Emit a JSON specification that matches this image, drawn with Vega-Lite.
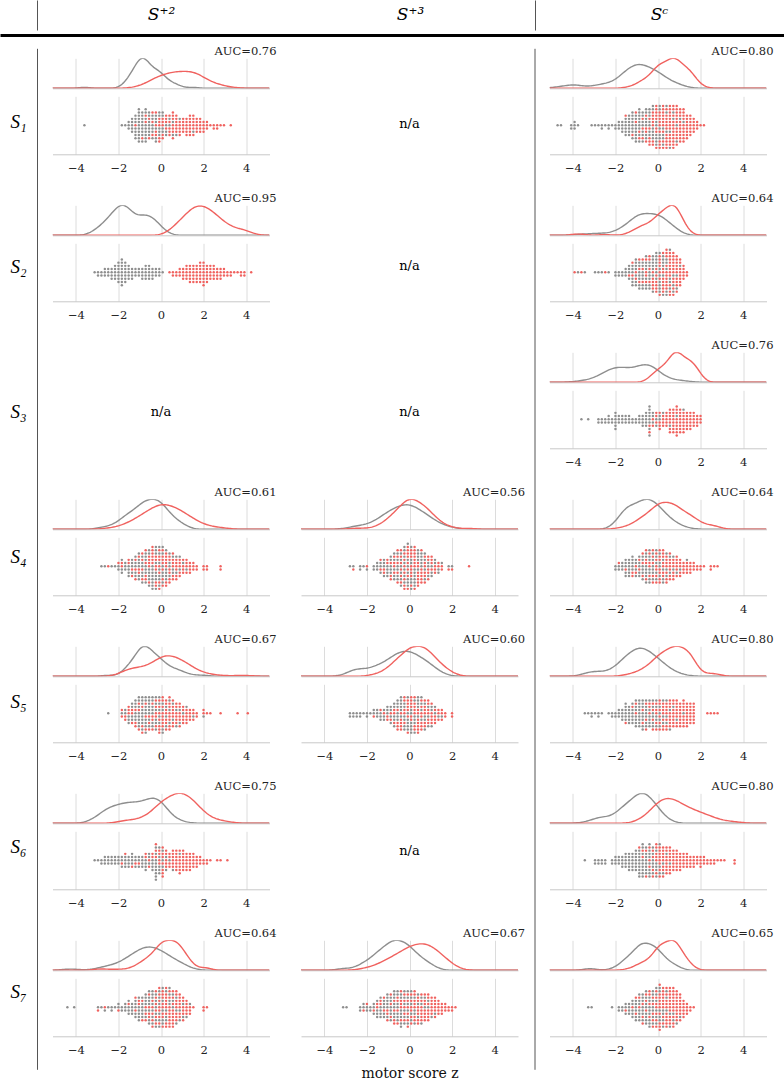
{
"$schema":"https://vega.github.io/schema/vega-lite/v6.json",
"padding":0,
"background":"white",
"config":{
 "view":{"stroke":null},
 "font":"DejaVu Serif",
 "axis":{"grid":true,"gridColor":"#dcdcdc","domainColor":"#c8c8c8","ticks":false,"tickSize":0,"labelFont":"DejaVu Serif","labelFontSize":11.5,"labelColor":"#222","labelPadding":8,"tickCount":5},
 "title":{"anchor":"end","frame":"group","font":"DejaVu Serif","fontSize":11.5,"fontWeight":"normal","color":"#222","offset":1,"baseline":"alphabetic","dx":7},
 "range":{"category":["#8e8e8e","#f0625f"]},
 "line":{"strokeWidth":1.4},
 "circle":{"size":6,"opacity":1}
},
"datasets":{
 "rows":[{"r":"S₁"},{"r":"S₂"},{"r":"S₃"},{"r":"S₄"},{"r":"S₅"},{"r":"S₆"},{"r":"S₇"}],
 "cols":[{"k":"S⁺²"},{"k":"S⁺³"},{"k":"Sᶜ"}],
 "na":[{"t":"n/a"}],
 "pts":[
  {"c":"11","g":"a","x":[-3.6,-1.8,-1.7,-1.5,-1.5,-1.5,-1.4,-1.4,-1.4,-1.4,-1.4,-1.2,-1.2,-1.2,-1.2,-1.2,-1.2,-1.2,-1,-1,-1,-1,-1,-1,-1,-1,-1,-1,-1,-0.9,-0.9,-0.9,-0.9,-0.9,-0.9,-0.9,-0.9,-0.9,-0.7,-0.7,-0.7,-0.7,-0.7,-0.7,-0.7,-0.7,-0.7,-0.6,-0.6,-0.6,-0.6,-0.6,-0.6,-0.6,-0.4,-0.4,-0.4,-0.4,-0.4,-0.4,-0.2,-0.2,-0.2,-0.2,-0.2,-0.2,-0.1,-0.1,-0.1,-0.1,-0.1,0.1,0.1,0.1,0.1,0.2,0.2,0.2,0.4,0.4,0.6,0.6,0.7,0.9,1.5]},
  {"c":"11","g":"b","x":[-1.2,-0.9,-0.7,-0.7,-0.6,-0.6,-0.4,-0.4,-0.4,-0.2,-0.2,-0.2,-0.2,-0.1,-0.1,-0.1,-0.1,-0.1,0.1,0.1,0.1,0.1,0.1,0.2,0.2,0.2,0.2,0.4,0.4,0.4,0.4,0.4,0.6,0.6,0.6,0.6,0.6,0.6,0.6,0.7,0.7,0.7,0.7,0.7,0.7,0.9,0.9,0.9,0.9,0.9,1,1,1,1,1,1.2,1.2,1.2,1.2,1.2,1.2,1.4,1.4,1.4,1.4,1.4,1.4,1.4,1.5,1.5,1.5,1.5,1.5,1.5,1.7,1.7,1.7,1.7,1.7,1.8,1.8,1.8,1.8,1.8,2,2,2,2,2.2,2.2,2.2,2.3,2.5,2.5,2.6,2.6,2.8,3,3.3]},
  {"c":"13","g":"a","x":[-4.7,-4.6,-4.1,-4.1,-3.9,-3.9,-3.9,-3.8,-3.1,-3,-2.8,-2.6,-2.6,-2.5,-2.3,-2.3,-2.2,-2,-2,-1.8,-1.8,-1.8,-1.7,-1.7,-1.7,-1.7,-1.5,-1.5,-1.5,-1.5,-1.5,-1.5,-1.4,-1.4,-1.4,-1.4,-1.4,-1.4,-1.4,-1.2,-1.2,-1.2,-1.2,-1.2,-1.2,-1.2,-1.2,-1,-1,-1,-1,-1,-1,-1,-1,-0.9,-0.9,-0.9,-0.9,-0.9,-0.9,-0.9,-0.9,-0.9,-0.7,-0.7,-0.7,-0.7,-0.7,-0.7,-0.7,-0.6,-0.6,-0.6,-0.6,-0.6,-0.6,-0.6,-0.4,-0.4,-0.4,-0.4,-0.4,-0.4,-0.4,-0.2,-0.2,-0.2,-0.2,-0.2,-0.2,-0.1,-0.1,-0.1,-0.1,-0.1,-0.1,0.1,0.1,0.1,0.1,0.1,0.2,0.2,0.2,0.2,0.4,0.4,0.4,0.6,0.6,0.7,0.7,0.9,0.9,1,1.2]},
  {"c":"13","g":"b","x":[-1.5,-1.2,-1,-1,-0.9,-0.9,-0.7,-0.7,-0.7,-0.6,-0.6,-0.6,-0.6,-0.4,-0.4,-0.4,-0.4,-0.4,-0.2,-0.2,-0.2,-0.2,-0.2,-0.2,-0.2,-0.1,-0.1,-0.1,-0.1,-0.1,-0.1,-0.1,-0.1,0.1,0.1,0.1,0.1,0.1,0.1,0.1,0.1,0.1,0.2,0.2,0.2,0.2,0.2,0.2,0.2,0.2,0.2,0.2,0.4,0.4,0.4,0.4,0.4,0.4,0.4,0.4,0.4,0.4,0.4,0.6,0.6,0.6,0.6,0.6,0.6,0.6,0.6,0.6,0.6,0.6,0.6,0.7,0.7,0.7,0.7,0.7,0.7,0.7,0.7,0.7,0.7,0.7,0.7,0.9,0.9,0.9,0.9,0.9,0.9,0.9,0.9,0.9,0.9,0.9,1,1,1,1,1,1,1,1,1,1,1.2,1.2,1.2,1.2,1.2,1.2,1.2,1.2,1.2,1.2,1.4,1.4,1.4,1.4,1.4,1.4,1.4,1.4,1.5,1.5,1.5,1.5,1.5,1.5,1.5,1.7,1.7,1.7,1.7,1.7,1.8,1.8,1.8,2,2.2]},
  {"c":"21","g":"a","x":[-3.1,-3,-3,-2.8,-2.8,-2.6,-2.6,-2.6,-2.5,-2.5,-2.5,-2.3,-2.3,-2.3,-2.3,-2.2,-2.2,-2.2,-2.2,-2.2,-2,-2,-2,-2,-2,-2,-2,-1.8,-1.8,-1.8,-1.8,-1.8,-1.8,-1.8,-1.8,-1.8,-1.7,-1.7,-1.7,-1.7,-1.7,-1.7,-1.7,-1.5,-1.5,-1.5,-1.5,-1.5,-1.4,-1.4,-1.4,-1.4,-1.2,-1.2,-1.2,-1,-1,-1,-0.9,-0.9,-0.9,-0.9,-0.7,-0.7,-0.7,-0.7,-0.7,-0.6,-0.6,-0.6,-0.6,-0.6,-0.4,-0.4,-0.4,-0.4,-0.2,-0.2,-0.2,-0.1,-0.1,-0.1,0.1]},
  {"c":"21","g":"b","x":[0.4,0.6,0.6,0.7,0.7,0.9,0.9,0.9,1,1,1,1,1.2,1.2,1.2,1.2,1.2,1.4,1.4,1.4,1.4,1.4,1.4,1.5,1.5,1.5,1.5,1.5,1.5,1.7,1.7,1.7,1.7,1.7,1.7,1.8,1.8,1.8,1.8,1.8,1.8,1.8,2,2,2,2,2,2,2,2,2.2,2.2,2.2,2.2,2.2,2.2,2.3,2.3,2.3,2.3,2.3,2.5,2.5,2.5,2.5,2.5,2.6,2.6,2.6,2.6,2.8,2.8,2.8,2.8,3,3,3,3.1,3.1,3.3,3.3,3.4,3.6,3.8,3.8,3.9,3.9,4.2]},
  {"c":"23","g":"a","x":[-3.8,-3.4,-3,-2.8,-2.6,-2.3,-2,-2,-1.8,-1.8,-1.7,-1.7,-1.5,-1.5,-1.5,-1.4,-1.4,-1.4,-1.4,-1.2,-1.2,-1.2,-1.2,-1.2,-1.2,-1,-1,-1,-1,-1,-1,-1,-0.9,-0.9,-0.9,-0.9,-0.9,-0.9,-0.9,-0.7,-0.7,-0.7,-0.7,-0.7,-0.7,-0.7,-0.6,-0.6,-0.6,-0.6,-0.6,-0.6,-0.6,-0.4,-0.4,-0.4,-0.4,-0.4,-0.4,-0.4,-0.2,-0.2,-0.2,-0.2,-0.2,-0.2,-0.2,-0.1,-0.1,-0.1,-0.1,-0.1,-0.1,-0.1,0.1,0.1,0.1,0.1,0.1,0.1,0.1,0.2,0.2,0.2,0.2,0.2,0.2,0.4,0.4,0.4,0.4,0.4,0.6,0.6,0.6,0.6,0.7,0.7,0.7,0.9,0.9,1]},
  {"c":"23","g":"b","x":[-3.9,-3.6,-2.5,-1.4,-1.2,-1.2,-1,-1,-0.9,-0.9,-0.9,-0.7,-0.7,-0.7,-0.6,-0.6,-0.6,-0.6,-0.4,-0.4,-0.4,-0.4,-0.2,-0.2,-0.2,-0.2,-0.2,-0.1,-0.1,-0.1,-0.1,-0.1,-0.1,0.1,0.1,0.1,0.1,0.1,0.1,0.1,0.2,0.2,0.2,0.2,0.2,0.2,0.2,0.2,0.4,0.4,0.4,0.4,0.4,0.4,0.4,0.4,0.4,0.4,0.6,0.6,0.6,0.6,0.6,0.6,0.6,0.6,0.6,0.6,0.6,0.7,0.7,0.7,0.7,0.7,0.7,0.7,0.7,0.7,0.7,0.7,0.9,0.9,0.9,0.9,0.9,0.9,0.9,0.9,0.9,0.9,1,1,1,1,1,1,1,1,1.2,1.2,1.2,1.2,1.2,1.4,1.4]},
  {"c":"33","g":"a","x":[-3.6,-3.3,-2.8,-2.8,-2.6,-2.6,-2.5,-2.5,-2.3,-2.3,-2.3,-2.2,-2.2,-2,-2,-2,-2,-2,-2,-1.8,-1.8,-1.8,-1.7,-1.7,-1.7,-1.5,-1.5,-1.5,-1.4,-1.4,-1.4,-1.2,-1.2,-1,-1,-0.9,-0.9,-0.9,-0.7,-0.7,-0.7,-0.7,-0.6,-0.6,-0.6,-0.6,-0.6,-0.4,-0.4,-0.4,-0.4,-0.4,-0.4,-0.4,-0.4,-0.2,-0.2,-0.2,-0.1,-0.1,0.1,0.1,0.2,0.6,0.9,1.2]},
  {"c":"33","g":"b","x":[-0.4,-0.4,-0.2,-0.2,-0.1,-0.1,-0.1,0.1,0.1,0.1,0.1,0.2,0.2,0.2,0.2,0.4,0.4,0.4,0.4,0.4,0.6,0.6,0.6,0.6,0.6,0.6,0.6,0.7,0.7,0.7,0.7,0.7,0.7,0.7,0.7,0.9,0.9,0.9,0.9,0.9,0.9,0.9,0.9,0.9,1,1,1,1,1,1,1,1,1.2,1.2,1.2,1.2,1.2,1.2,1.2,1.4,1.4,1.4,1.4,1.4,1.4,1.5,1.5,1.5,1.5,1.5,1.5,1.7,1.7,1.7,1.7,1.7,1.8,1.8,1.8,1.8,2,2,2]},
  {"c":"41","g":"a","x":[-2.8,-2.6,-2.3,-2.2,-2,-2,-1.8,-1.8,-1.8,-1.7,-1.7,-1.7,-1.5,-1.5,-1.5,-1.5,-1.4,-1.4,-1.4,-1.4,-1.2,-1.2,-1.2,-1.2,-1.2,-1,-1,-1,-1,-1,-1,-0.9,-0.9,-0.9,-0.9,-0.9,-0.9,-0.7,-0.7,-0.7,-0.7,-0.7,-0.7,-0.7,-0.6,-0.6,-0.6,-0.6,-0.6,-0.6,-0.6,-0.4,-0.4,-0.4,-0.4,-0.4,-0.4,-0.4,-0.4,-0.2,-0.2,-0.2,-0.2,-0.2,-0.2,-0.2,-0.2,-0.1,-0.1,-0.1,-0.1,-0.1,-0.1,-0.1,0.1,0.1,0.1,0.1,0.1,0.1,0.2,0.2,0.2,0.2,0.2,0.4,0.4,0.4,0.4,0.6,0.6,0.6,0.7,0.7,0.9,0.9,1,1.2]},
  {"c":"41","g":"b","x":[-2.5,-2,-1.8,-1.8,-1.5,-1.5,-1.4,-1.4,-1.2,-1.2,-1.2,-1,-1,-1,-0.9,-0.9,-0.9,-0.9,-0.7,-0.7,-0.7,-0.7,-0.6,-0.6,-0.6,-0.6,-0.6,-0.4,-0.4,-0.4,-0.4,-0.4,-0.4,-0.2,-0.2,-0.2,-0.2,-0.2,-0.2,-0.1,-0.1,-0.1,-0.1,-0.1,-0.1,-0.1,0.1,0.1,0.1,0.1,0.1,0.1,0.1,0.2,0.2,0.2,0.2,0.2,0.2,0.2,0.4,0.4,0.4,0.4,0.4,0.4,0.6,0.6,0.6,0.6,0.6,0.6,0.7,0.7,0.7,0.7,0.7,0.7,0.9,0.9,0.9,0.9,0.9,1,1,1,1,1.2,1.2,1.2,1.2,1.4,1.4,1.4,1.4,1.5,1.5,1.5,1.7,1.7,2,2,2.2,2.2,2.8,2.8]},
  {"c":"42","g":"a","x":[-2.8,-2.6,-2.3,-2.3,-2.2,-2,-1.7,-1.7,-1.5,-1.5,-1.5,-1.4,-1.4,-1.4,-1.2,-1.2,-1.2,-1.2,-1,-1,-1,-1,-0.9,-0.9,-0.9,-0.9,-0.9,-0.7,-0.7,-0.7,-0.7,-0.7,-0.6,-0.6,-0.6,-0.6,-0.6,-0.6,-0.4,-0.4,-0.4,-0.4,-0.4,-0.4,-0.2,-0.2,-0.2,-0.2,-0.2,-0.2,-0.2,-0.1,-0.1,-0.1,-0.1,-0.1,-0.1,-0.1,0.1,0.1,0.1,0.1,0.1,0.1,0.2,0.2,0.2,0.2,0.2,0.2,0.4,0.4,0.4,0.4,0.4,0.6,0.6,0.6,0.6,0.6,0.7,0.7,0.7,0.7,0.9,0.9,0.9,1,1,1,1.2,1.2,1.4,1.4,1.5,1.8,2]},
  {"c":"42","g":"b","x":[-2.6,-2,-1.4,-1.4,-1.2,-1.2,-1,-1,-0.9,-0.9,-0.9,-0.7,-0.7,-0.7,-0.7,-0.6,-0.6,-0.6,-0.6,-0.6,-0.4,-0.4,-0.4,-0.4,-0.4,-0.4,-0.2,-0.2,-0.2,-0.2,-0.2,-0.2,-0.2,-0.1,-0.1,-0.1,-0.1,-0.1,-0.1,-0.1,-0.1,0.1,0.1,0.1,0.1,0.1,0.1,0.1,0.1,0.2,0.2,0.2,0.2,0.2,0.2,0.2,0.2,0.4,0.4,0.4,0.4,0.4,0.4,0.4,0.6,0.6,0.6,0.6,0.6,0.6,0.7,0.7,0.7,0.7,0.7,0.7,0.9,0.9,0.9,0.9,0.9,1,1,1,1,1.2,1.2,1.2,1.4,1.4,1.5,1.5,1.8,2,2.8]},
  {"c":"43","g":"a","x":[-2,-2,-1.8,-1.8,-1.7,-1.7,-1.7,-1.5,-1.5,-1.5,-1.5,-1.5,-1.4,-1.4,-1.4,-1.4,-1.4,-1.4,-1.2,-1.2,-1.2,-1.2,-1.2,-1,-1,-1,-1,-0.9,-0.9,-0.9,-0.9,-0.9,-0.7,-0.7,-0.7,-0.7,-0.7,-0.7,-0.6,-0.6,-0.6,-0.6,-0.6,-0.6,-0.6,-0.4,-0.4,-0.4,-0.4,-0.4,-0.4,-0.4,-0.2,-0.2,-0.2,-0.2,-0.2,-0.2,-0.1,-0.1,-0.1,-0.1,-0.1,0.1,0.1,0.1,0.1,0.2,0.2,0.2,0.2,0.4,0.4,0.4,0.6,0.6,0.7,0.7,0.9,1,1.4]},
  {"c":"43","g":"b","x":[-1.8,-1.5,-1.2,-1.2,-1,-1,-0.9,-0.9,-0.7,-0.7,-0.7,-0.6,-0.6,-0.6,-0.6,-0.4,-0.4,-0.4,-0.4,-0.2,-0.2,-0.2,-0.2,-0.2,-0.1,-0.1,-0.1,-0.1,-0.1,-0.1,0.1,0.1,0.1,0.1,0.1,0.1,0.1,0.2,0.2,0.2,0.2,0.2,0.2,0.2,0.4,0.4,0.4,0.4,0.4,0.4,0.4,0.6,0.6,0.6,0.6,0.6,0.6,0.6,0.7,0.7,0.7,0.7,0.7,0.7,0.9,0.9,0.9,0.9,0.9,0.9,1,1,1,1,1,1.2,1.2,1.2,1.2,1.4,1.4,1.4,1.4,1.5,1.5,1.5,1.5,1.7,1.7,1.7,1.8,1.8,2,2,2.2,2.5,2.5,2.6,2.8]},
  {"c":"51","g":"a","x":[-2.5,-1.8,-1.7,-1.7,-1.5,-1.5,-1.5,-1.4,-1.4,-1.4,-1.4,-1.2,-1.2,-1.2,-1.2,-1.2,-1.2,-1,-1,-1,-1,-1,-1,-1,-1,-0.9,-0.9,-0.9,-0.9,-0.9,-0.9,-0.9,-0.9,-0.9,-0.7,-0.7,-0.7,-0.7,-0.7,-0.7,-0.7,-0.7,-0.7,-0.6,-0.6,-0.6,-0.6,-0.6,-0.6,-0.6,-0.6,-0.4,-0.4,-0.4,-0.4,-0.4,-0.4,-0.4,-0.2,-0.2,-0.2,-0.2,-0.2,-0.2,-0.1,-0.1,-0.1,-0.1,-0.1,0.1,0.1,0.1,0.1,0.2,0.2,0.2,0.4,0.4,0.4,0.6,0.6,0.7,0.7,0.9,0.9,1,1.2,1.5,2]},
  {"c":"51","g":"b","x":[-1.8,-1.8,-1.7,-1.7,-1.5,-1.5,-1.5,-1.4,-1.4,-1.4,-1.2,-1.2,-1.2,-1,-1,-1,-0.9,-0.9,-0.9,-0.7,-0.7,-0.7,-0.6,-0.6,-0.6,-0.4,-0.4,-0.4,-0.4,-0.2,-0.2,-0.2,-0.2,-0.2,-0.1,-0.1,-0.1,-0.1,-0.1,-0.1,-0.1,0.1,0.1,0.1,0.1,0.1,0.1,0.1,0.1,0.2,0.2,0.2,0.2,0.2,0.2,0.2,0.4,0.4,0.4,0.4,0.4,0.4,0.4,0.4,0.6,0.6,0.6,0.6,0.6,0.6,0.6,0.7,0.7,0.7,0.7,0.7,0.7,0.9,0.9,0.9,0.9,0.9,0.9,1,1,1,1,1,1.2,1.2,1.2,1.2,1.2,1.4,1.4,1.4,1.4,1.5,1.5,1.5,1.7,1.7,2,2,2.2,2.3,2.8,3.6,4.1]},
  {"c":"52","g":"a","x":[-2.8,-2.8,-2.6,-2.6,-2.5,-2.5,-2.3,-2.3,-2.2,-2,-2,-1.8,-1.7,-1.7,-1.5,-1.5,-1.5,-1.4,-1.4,-1.4,-1.2,-1.2,-1.2,-1,-1,-1,-0.9,-0.9,-0.9,-0.9,-0.7,-0.7,-0.7,-0.7,-0.7,-0.6,-0.6,-0.6,-0.6,-0.6,-0.6,-0.4,-0.4,-0.4,-0.4,-0.4,-0.4,-0.2,-0.2,-0.2,-0.2,-0.2,-0.2,-0.1,-0.1,-0.1,-0.1,-0.1,-0.1,0.1,0.1,0.1,0.1,0.1,0.1,0.2,0.2,0.2,0.2,0.2,0.4,0.4,0.4,0.4,0.4,0.6,0.6,0.6,0.6,0.7,0.7,0.7,0.7,0.9,0.9,0.9,1,1,1,1.2,1.2,1.4,1.5]},
  {"c":"52","g":"b","x":[-1.7,-1.4,-1.2,-1,-1,-0.9,-0.9,-0.7,-0.7,-0.7,-0.6,-0.6,-0.6,-0.6,-0.4,-0.4,-0.4,-0.4,-0.4,-0.2,-0.2,-0.2,-0.2,-0.2,-0.1,-0.1,-0.1,-0.1,-0.1,-0.1,0.1,0.1,0.1,0.1,0.1,0.1,0.2,0.2,0.2,0.2,0.2,0.2,0.2,0.4,0.4,0.4,0.4,0.4,0.4,0.4,0.6,0.6,0.6,0.6,0.6,0.6,0.6,0.7,0.7,0.7,0.7,0.7,0.7,0.9,0.9,0.9,0.9,0.9,0.9,1,1,1,1,1,1.2,1.2,1.2,1.2,1.4,1.4,1.4,1.5,1.5,1.5,1.7,1.7,2,2]},
  {"c":"53","g":"a","x":[-3.4,-3.3,-3.1,-3.1,-3,-2.8,-2.8,-2.6,-2.3,-2.2,-2.2,-2,-2,-1.8,-1.8,-1.8,-1.7,-1.7,-1.7,-1.7,-1.5,-1.5,-1.5,-1.5,-1.5,-1.5,-1.4,-1.4,-1.4,-1.4,-1.4,-1.4,-1.2,-1.2,-1.2,-1.2,-1.2,-1.2,-1,-1,-1,-1,-1,-1,-1,-0.9,-0.9,-0.9,-0.9,-0.9,-0.9,-0.9,-0.9,-0.9,-0.7,-0.7,-0.7,-0.7,-0.7,-0.7,-0.7,-0.7,-0.6,-0.6,-0.6,-0.6,-0.6,-0.6,-0.6,-0.4,-0.4,-0.4,-0.4,-0.4,-0.4,-0.2,-0.2,-0.2,-0.2,-0.2,-0.2,-0.1,-0.1,-0.1,-0.1,-0.1,0.1,0.1,0.1,0.1,0.2,0.2,0.2,0.4,0.4,0.4,0.6,0.6,0.7,0.9,1.2]},
  {"c":"53","g":"b","x":[-1.5,-1.2,-1,-1,-0.7,-0.7,-0.6,-0.6,-0.6,-0.4,-0.4,-0.4,-0.2,-0.2,-0.2,-0.2,-0.1,-0.1,-0.1,-0.1,-0.1,0.1,0.1,0.1,0.1,0.1,0.1,0.2,0.2,0.2,0.2,0.2,0.2,0.2,0.4,0.4,0.4,0.4,0.4,0.4,0.4,0.6,0.6,0.6,0.6,0.6,0.6,0.6,0.6,0.7,0.7,0.7,0.7,0.7,0.7,0.7,0.7,0.9,0.9,0.9,0.9,0.9,0.9,0.9,0.9,1,1,1,1,1,1,1,1,1.2,1.2,1.2,1.2,1.2,1.2,1.2,1.2,1.4,1.4,1.4,1.4,1.4,1.4,1.4,1.4,1.5,1.5,1.5,1.5,1.5,1.5,1.5,1.7,1.7,1.7,1.7,1.7,1.7,1.7,2.3,2.5,2.6,2.8]},
  {"c":"61","g":"a","x":[-3.1,-3,-2.8,-2.8,-2.6,-2.6,-2.6,-2.5,-2.5,-2.5,-2.3,-2.3,-2.3,-2.2,-2.2,-2.2,-2,-2,-2,-1.8,-1.8,-1.8,-1.7,-1.7,-1.7,-1.7,-1.5,-1.5,-1.5,-1.5,-1.4,-1.4,-1.4,-1.4,-1.2,-1.2,-1.2,-1,-1,-1,-0.9,-0.9,-0.9,-0.9,-0.7,-0.7,-0.7,-0.7,-0.6,-0.6,-0.6,-0.4,-0.4,-0.4,-0.4,-0.2,-0.2,-0.2,-0.2,-0.2,-0.2,-0.2,-0.2,-0.2,-0.1,-0.1,-0.1,-0.1,-0.1,0.1,0.1,0.1,0.2,0.2,0.4,0.6,0.9]},
  {"c":"61","g":"b","x":[-1.8,-1.7,-1.4,-1.2,-1,-0.7,-0.7,-0.6,-0.6,-0.4,-0.4,-0.2,-0.2,-0.2,-0.1,-0.1,-0.1,-0.1,0.1,0.1,0.1,0.1,0.1,0.1,0.1,0.2,0.2,0.2,0.2,0.2,0.4,0.4,0.4,0.4,0.6,0.6,0.6,0.6,0.6,0.6,0.7,0.7,0.7,0.7,0.7,0.7,0.7,0.9,0.9,0.9,0.9,0.9,0.9,0.9,1,1,1,1,1,1,1,1.2,1.2,1.2,1.2,1.2,1.2,1.4,1.4,1.4,1.4,1.4,1.4,1.5,1.5,1.5,1.5,1.5,1.7,1.7,1.7,1.7,1.8,1.8,1.8,2,2,2.2,2.2,2.3,2.6,2.8,3.1]},
  {"c":"63","g":"a","x":[-3.4,-3,-3,-2.8,-2.8,-2.6,-2.6,-2.5,-2.5,-2.2,-2.2,-2,-2,-2,-1.8,-1.8,-1.8,-1.7,-1.7,-1.7,-1.7,-1.5,-1.5,-1.5,-1.5,-1.5,-1.4,-1.4,-1.4,-1.4,-1.4,-1.4,-1.2,-1.2,-1.2,-1.2,-1.2,-1.2,-1,-1,-1,-1,-1,-1,-1,-0.9,-0.9,-0.9,-0.9,-0.9,-0.9,-0.9,-0.9,-0.9,-0.7,-0.7,-0.7,-0.7,-0.7,-0.7,-0.7,-0.7,-0.7,-0.6,-0.6,-0.6,-0.6,-0.6,-0.6,-0.6,-0.6,-0.4,-0.4,-0.4,-0.4,-0.4,-0.4,-0.4,-0.4,-0.2,-0.2,-0.2,-0.2,-0.2,-0.2,-0.1,-0.1,-0.1,-0.1,-0.1,0.1,0.1,0.1,0.2,0.2,0.4,0.6]},
  {"c":"63","g":"b","x":[-0.9,-0.7,-0.7,-0.6,-0.6,-0.4,-0.4,-0.4,-0.2,-0.2,-0.2,-0.2,-0.1,-0.1,-0.1,-0.1,-0.1,-0.1,0.1,0.1,0.1,0.1,0.1,0.1,0.1,0.1,0.2,0.2,0.2,0.2,0.2,0.2,0.2,0.2,0.4,0.4,0.4,0.4,0.4,0.4,0.4,0.4,0.6,0.6,0.6,0.6,0.6,0.6,0.6,0.6,0.7,0.7,0.7,0.7,0.7,0.7,0.7,0.9,0.9,0.9,0.9,0.9,0.9,0.9,1,1,1,1,1,1,1.2,1.2,1.2,1.2,1.2,1.4,1.4,1.4,1.4,1.4,1.5,1.5,1.5,1.5,1.7,1.7,1.7,1.7,1.8,1.8,1.8,2,2,2,2,2.2,2.2,2.2,2.3,2.3,2.5,2.5,2.6,2.6,2.8,3,3.1,3.6,3.6]},
  {"c":"71","g":"a","x":[-4.4,-4.1,-3,-2.8,-2.6,-2.5,-2.3,-2.3,-2.2,-2,-2,-1.8,-1.8,-1.7,-1.7,-1.7,-1.5,-1.5,-1.5,-1.5,-1.4,-1.4,-1.4,-1.4,-1.2,-1.2,-1.2,-1.2,-1.2,-1,-1,-1,-1,-1,-1,-0.9,-0.9,-0.9,-0.9,-0.9,-0.9,-0.7,-0.7,-0.7,-0.7,-0.7,-0.7,-0.6,-0.6,-0.6,-0.6,-0.6,-0.6,-0.6,-0.4,-0.4,-0.4,-0.4,-0.4,-0.4,-0.4,-0.2,-0.2,-0.2,-0.2,-0.2,-0.2,-0.1,-0.1,-0.1,-0.1,-0.1,-0.1,0.1,0.1,0.1,0.1,0.1,0.2,0.2,0.2,0.2,0.4,0.4,0.4,0.4,0.6,0.6,0.6,0.7,0.7,0.7,0.9,0.9,1,1,1.2,1.4]},
  {"c":"71","g":"b","x":[-3,-2.6,-2,-1.5,-1.2,-1.2,-1,-1,-0.9,-0.9,-0.7,-0.7,-0.7,-0.6,-0.6,-0.6,-0.6,-0.4,-0.4,-0.4,-0.4,-0.4,-0.2,-0.2,-0.2,-0.2,-0.2,-0.2,-0.1,-0.1,-0.1,-0.1,-0.1,-0.1,-0.1,0.1,0.1,0.1,0.1,0.1,0.1,0.1,0.1,0.2,0.2,0.2,0.2,0.2,0.2,0.2,0.2,0.2,0.4,0.4,0.4,0.4,0.4,0.4,0.4,0.4,0.4,0.6,0.6,0.6,0.6,0.6,0.6,0.6,0.6,0.6,0.7,0.7,0.7,0.7,0.7,0.7,0.7,0.7,0.9,0.9,0.9,0.9,0.9,0.9,0.9,1,1,1,1,1,1,1.2,1.2,1.2,1.2,1.2,1.4,1.4,1.4,1.5,2,2,2.2]},
  {"c":"72","g":"a","x":[-3.1,-3,-2.3,-2.3,-2.2,-2.2,-2,-2,-1.8,-1.8,-1.7,-1.7,-1.7,-1.5,-1.5,-1.5,-1.5,-1.4,-1.4,-1.4,-1.4,-1.4,-1.2,-1.2,-1.2,-1.2,-1.2,-1,-1,-1,-1,-1,-1,-0.9,-0.9,-0.9,-0.9,-0.9,-0.9,-0.7,-0.7,-0.7,-0.7,-0.7,-0.7,-0.7,-0.6,-0.6,-0.6,-0.6,-0.6,-0.6,-0.6,-0.4,-0.4,-0.4,-0.4,-0.4,-0.4,-0.4,-0.2,-0.2,-0.2,-0.2,-0.2,-0.2,-0.1,-0.1,-0.1,-0.1,-0.1,-0.1,0.1,0.1,0.1,0.1,0.1,0.2,0.2,0.2,0.2,0.4,0.4,0.4,0.6,0.6,0.6,0.7,0.7,0.9,0.9,1,1.2]},
  {"c":"72","g":"b","x":[-2.2,-2,-1.7,-1.5,-1.5,-1.4,-1.4,-1.2,-1.2,-1,-1,-1,-0.9,-0.9,-0.9,-0.7,-0.7,-0.7,-0.7,-0.6,-0.6,-0.6,-0.6,-0.4,-0.4,-0.4,-0.4,-0.4,-0.2,-0.2,-0.2,-0.2,-0.2,-0.1,-0.1,-0.1,-0.1,-0.1,-0.1,0.1,0.1,0.1,0.1,0.1,0.1,0.2,0.2,0.2,0.2,0.2,0.2,0.2,0.4,0.4,0.4,0.4,0.4,0.4,0.4,0.6,0.6,0.6,0.6,0.6,0.6,0.6,0.7,0.7,0.7,0.7,0.7,0.7,0.7,0.9,0.9,0.9,0.9,0.9,0.9,0.9,1,1,1,1,1,1,1.2,1.2,1.2,1.2,1.2,1.2,1.4,1.4,1.4,1.4,1.4,1.5,1.5,1.5,1.5,1.7,1.7,1.7,1.8,1.8,2,2,2.2]},
  {"c":"73","g":"a","x":[-3.3,-3.1,-2.2,-1.8,-1.8,-1.7,-1.7,-1.5,-1.5,-1.5,-1.4,-1.4,-1.4,-1.4,-1.2,-1.2,-1.2,-1.2,-1.2,-1,-1,-1,-1,-1,-1,-0.9,-0.9,-0.9,-0.9,-0.9,-0.9,-0.9,-0.7,-0.7,-0.7,-0.7,-0.7,-0.7,-0.7,-0.6,-0.6,-0.6,-0.6,-0.6,-0.6,-0.6,-0.6,-0.4,-0.4,-0.4,-0.4,-0.4,-0.4,-0.4,-0.4,-0.2,-0.2,-0.2,-0.2,-0.2,-0.2,-0.2,-0.1,-0.1,-0.1,-0.1,-0.1,-0.1,0.1,0.1,0.1,0.1,0.1,0.2,0.2,0.2,0.2,0.4,0.4,0.4,0.6,0.6,0.7,0.7,0.9,1]},
  {"c":"73","g":"b","x":[-1.5,-1.2,-1,-1,-0.9,-0.9,-0.7,-0.7,-0.7,-0.6,-0.6,-0.6,-0.4,-0.4,-0.4,-0.4,-0.2,-0.2,-0.2,-0.2,-0.2,-0.1,-0.1,-0.1,-0.1,-0.1,-0.1,-0.1,0.1,0.1,0.1,0.1,0.1,0.1,0.1,0.1,0.1,0.1,0.2,0.2,0.2,0.2,0.2,0.2,0.2,0.2,0.2,0.4,0.4,0.4,0.4,0.4,0.4,0.4,0.4,0.4,0.4,0.6,0.6,0.6,0.6,0.6,0.6,0.6,0.6,0.6,0.6,0.6,0.7,0.7,0.7,0.7,0.7,0.7,0.7,0.7,0.7,0.7,0.7,0.9,0.9,0.9,0.9,0.9,0.9,0.9,0.9,0.9,0.9,1,1,1,1,1,1,1,1,1.2,1.2,1.2,1.2,1.2,1.2,1.4,1.4,1.4,1.4,1.5,1.5,1.7]}
 ]
},
"data":{"name":"pts"},
"transform":[
 {"flatten":["x"]},
 {"window":[{"op":"row_number","as":"i"}]},
 {"calculate":"floor(datum.x/0.16)","as":"b"},
 {"calculate":"(datum.i*37)%53","as":"h"},
 {"window":[{"op":"row_number","as":"r"}],"groupby":["c","b"],"sort":[{"field":"h"}]},
 {"calculate":"(datum.b+0.5)*0.16","as":"xb"},
 {"calculate":"(datum.r%2==0?-1:1)*floor(datum.r/2)","as":"o"}
],
"bounds":"full",
"spacing":10.3,
"vconcat":[
 {"data":{"name":"cols"},"width":784,"height":30,
  "mark":{"type":"text","font":"DejaVu Serif","fontStyle":"italic","fontSize":17},
  "encoding":{
   "x":{"field":"k","type":"nominal","sort":null,"scale":{"type":"band","range":[0,784],"paddingInner":0,"paddingOuter":0.0743,"align":1},
        "axis":{"orient":"bottom","offset":5,"labels":false,"title":null,"domainColor":"#000","domainWidth":3,"grid":true,"bandPosition":0,"gridColor":"#555","gridOpacity":{"condition":{"test":"datum.value==='S⁺³'","value":0},"value":1}}},
   "text":{"field":"k"}
  }
 },
 {"bounds":"full","spacing":24,"hconcat":[
  {"bounds":"full","spacing":15.5,"hconcat":[
   {"data":{"name":"rows"},"width":37,"height":976.2,
    "mark":{"type":"text","font":"Liberation Serif","fontStyle":"italic","fontSize":19},
    "encoding":{
     "y":{"field":"r","type":"nominal","sort":null,"scale":{"type":"point","range":[-10,1011],"padding":0.5207,"align":0.49},"axis":{"orient":"right","labels":false,"grid":false,"title":null,"domainColor":"#555"}},
     "text":{"field":"r"}
    }
   },
   {"bounds":"flush","spacing":8,"vconcat":[
    {"width":217,"height":30,"title":"AUC=0.76","transform":[{"filter":"datum.c=='11'"},{"density":"x","groupby":["g"],"extent":[-5.1,5.1],"steps":150}],"mark":{"type":"line","clip":true},"encoding":{"x":{"field":"value","type":"quantitative","scale":{"domain":[-5.1,5.1]},"axis":{"labels":false},"title":null},"y":{"field":"density","type":"quantitative","scale":{"nice":false},"axis":null},"color":{"field":"g","legend":null}}},
    {"width":217,"height":58,"transform":[{"filter":"datum.c=='11'"}],"mark":"circle","encoding":{"x":{"field":"xb","type":"quantitative","scale":{"domain":[-5.1,5.1]},"title":null},"y":{"field":"o","type":"quantitative","scale":{"domain":[-9,9]},"axis":null},"color":{"field":"g","legend":null}}},
    {"data":{"name":"na"},"width":217,"height":34.7,"mark":{"type":"text","text":""},"encoding":{}},
    {"width":217,"height":30,"title":"AUC=0.95","transform":[{"filter":"datum.c=='21'"},{"density":"x","groupby":["g"],"extent":[-5.1,5.1],"steps":150}],"mark":{"type":"line","clip":true},"encoding":{"x":{"field":"value","type":"quantitative","scale":{"domain":[-5.1,5.1]},"axis":{"labels":false},"title":null},"y":{"field":"density","type":"quantitative","scale":{"nice":false},"axis":null},"color":{"field":"g","legend":null}}},
    {"width":217,"height":58,"transform":[{"filter":"datum.c=='21'"}],"mark":"circle","encoding":{"x":{"field":"xb","type":"quantitative","scale":{"domain":[-5.1,5.1]},"title":null},"y":{"field":"o","type":"quantitative","scale":{"domain":[-9,9]},"axis":null},"color":{"field":"g","legend":null}}},
    {"data":{"name":"na"},"width":217,"height":34.7,"mark":{"type":"text","text":""},"encoding":{}},
    {"data":{"name":"na"},"width":217,"height":96,"mark":{"type":"text","fontSize":13,"dy":11.6},"encoding":{"text":{"field":"t"}}},
    {"data":{"name":"na"},"width":217,"height":34.7,"mark":{"type":"text","text":""},"encoding":{}},
    {"width":217,"height":30,"title":"AUC=0.61","transform":[{"filter":"datum.c=='41'"},{"density":"x","groupby":["g"],"extent":[-5.1,5.1],"steps":150}],"mark":{"type":"line","clip":true},"encoding":{"x":{"field":"value","type":"quantitative","scale":{"domain":[-5.1,5.1]},"axis":{"labels":false},"title":null},"y":{"field":"density","type":"quantitative","scale":{"nice":false},"axis":null},"color":{"field":"g","legend":null}}},
    {"width":217,"height":58,"transform":[{"filter":"datum.c=='41'"}],"mark":"circle","encoding":{"x":{"field":"xb","type":"quantitative","scale":{"domain":[-5.1,5.1]},"title":null},"y":{"field":"o","type":"quantitative","scale":{"domain":[-9,9]},"axis":null},"color":{"field":"g","legend":null}}},
    {"data":{"name":"na"},"width":217,"height":34.7,"mark":{"type":"text","text":""},"encoding":{}},
    {"width":217,"height":30,"title":"AUC=0.67","transform":[{"filter":"datum.c=='51'"},{"density":"x","groupby":["g"],"extent":[-5.1,5.1],"steps":150}],"mark":{"type":"line","clip":true},"encoding":{"x":{"field":"value","type":"quantitative","scale":{"domain":[-5.1,5.1]},"axis":{"labels":false},"title":null},"y":{"field":"density","type":"quantitative","scale":{"nice":false},"axis":null},"color":{"field":"g","legend":null}}},
    {"width":217,"height":58,"transform":[{"filter":"datum.c=='51'"}],"mark":"circle","encoding":{"x":{"field":"xb","type":"quantitative","scale":{"domain":[-5.1,5.1]},"title":null},"y":{"field":"o","type":"quantitative","scale":{"domain":[-9,9]},"axis":null},"color":{"field":"g","legend":null}}},
    {"data":{"name":"na"},"width":217,"height":34.7,"mark":{"type":"text","text":""},"encoding":{}},
    {"width":217,"height":30,"title":"AUC=0.75","transform":[{"filter":"datum.c=='61'"},{"density":"x","groupby":["g"],"extent":[-5.1,5.1],"steps":150}],"mark":{"type":"line","clip":true},"encoding":{"x":{"field":"value","type":"quantitative","scale":{"domain":[-5.1,5.1]},"axis":{"labels":false},"title":null},"y":{"field":"density","type":"quantitative","scale":{"nice":false},"axis":null},"color":{"field":"g","legend":null}}},
    {"width":217,"height":58,"transform":[{"filter":"datum.c=='61'"}],"mark":"circle","encoding":{"x":{"field":"xb","type":"quantitative","scale":{"domain":[-5.1,5.1]},"title":null},"y":{"field":"o","type":"quantitative","scale":{"domain":[-9,9]},"axis":null},"color":{"field":"g","legend":null}}},
    {"data":{"name":"na"},"width":217,"height":34.7,"mark":{"type":"text","text":""},"encoding":{}},
    {"width":217,"height":30,"title":"AUC=0.64","transform":[{"filter":"datum.c=='71'"},{"density":"x","groupby":["g"],"extent":[-5.1,5.1],"steps":150}],"mark":{"type":"line","clip":true},"encoding":{"x":{"field":"value","type":"quantitative","scale":{"domain":[-5.1,5.1]},"axis":{"labels":false},"title":null},"y":{"field":"density","type":"quantitative","scale":{"nice":false},"axis":null},"color":{"field":"g","legend":null}}},
    {"width":217,"height":58,"transform":[{"filter":"datum.c=='71'"}],"mark":"circle","encoding":{"x":{"field":"xb","type":"quantitative","scale":{"domain":[-5.1,5.1]},"title":null},"y":{"field":"o","type":"quantitative","scale":{"domain":[-9,9]},"axis":null},"color":{"field":"g","legend":null}}}
   ]}
  ]},
  {"bounds":"full","spacing":9.5,"hconcat":[
   {"bounds":"flush","spacing":8,"vconcat":[
    {"data":{"name":"na"},"width":217,"height":96,"title":" ","mark":{"type":"text","fontSize":13,"dy":18},"encoding":{"text":{"field":"t"}}},
    {"data":{"name":"na"},"width":217,"height":34.7,"mark":{"type":"text","text":""},"encoding":{}},
    {"data":{"name":"na"},"width":217,"height":96,"mark":{"type":"text","fontSize":13,"dy":13},"encoding":{"text":{"field":"t"}}},
    {"data":{"name":"na"},"width":217,"height":34.7,"mark":{"type":"text","text":""},"encoding":{}},
    {"data":{"name":"na"},"width":217,"height":96,"mark":{"type":"text","fontSize":13,"dy":11.6},"encoding":{"text":{"field":"t"}}},
    {"data":{"name":"na"},"width":217,"height":34.7,"mark":{"type":"text","text":""},"encoding":{}},
    {"width":217,"height":30,"title":"AUC=0.56","transform":[{"filter":"datum.c=='42'"},{"density":"x","groupby":["g"],"extent":[-5.1,5.1],"steps":150}],"mark":{"type":"line","clip":true},"encoding":{"x":{"field":"value","type":"quantitative","scale":{"domain":[-5.1,5.1]},"axis":{"labels":false},"title":null},"y":{"field":"density","type":"quantitative","scale":{"nice":false},"axis":null},"color":{"field":"g","legend":null}}},
    {"width":217,"height":58,"transform":[{"filter":"datum.c=='42'"}],"mark":"circle","encoding":{"x":{"field":"xb","type":"quantitative","scale":{"domain":[-5.1,5.1]},"title":null},"y":{"field":"o","type":"quantitative","scale":{"domain":[-9,9]},"axis":null},"color":{"field":"g","legend":null}}},
    {"data":{"name":"na"},"width":217,"height":34.7,"mark":{"type":"text","text":""},"encoding":{}},
    {"width":217,"height":30,"title":"AUC=0.60","transform":[{"filter":"datum.c=='52'"},{"density":"x","groupby":["g"],"extent":[-5.1,5.1],"steps":150}],"mark":{"type":"line","clip":true},"encoding":{"x":{"field":"value","type":"quantitative","scale":{"domain":[-5.1,5.1]},"axis":{"labels":false},"title":null},"y":{"field":"density","type":"quantitative","scale":{"nice":false},"axis":null},"color":{"field":"g","legend":null}}},
    {"width":217,"height":58,"transform":[{"filter":"datum.c=='52'"}],"mark":"circle","encoding":{"x":{"field":"xb","type":"quantitative","scale":{"domain":[-5.1,5.1]},"title":null},"y":{"field":"o","type":"quantitative","scale":{"domain":[-9,9]},"axis":null},"color":{"field":"g","legend":null}}},
    {"data":{"name":"na"},"width":217,"height":34.7,"mark":{"type":"text","text":""},"encoding":{}},
    {"data":{"name":"na"},"width":217,"height":96,"mark":{"type":"text","fontSize":13,"dy":9.5},"encoding":{"text":{"field":"t"}}},
    {"data":{"name":"na"},"width":217,"height":34.7,"mark":{"type":"text","text":""},"encoding":{}},
    {"width":217,"height":30,"title":"AUC=0.67","transform":[{"filter":"datum.c=='72'"},{"density":"x","groupby":["g"],"extent":[-5.1,5.1],"steps":150}],"mark":{"type":"line","clip":true},"encoding":{"x":{"field":"value","type":"quantitative","scale":{"domain":[-5.1,5.1]},"axis":{"labels":false},"title":null},"y":{"field":"density","type":"quantitative","scale":{"nice":false},"axis":null},"color":{"field":"g","legend":null}}},
    {"width":217,"height":58,"transform":[{"filter":"datum.c=='72'"}],"mark":"circle","encoding":{"x":{"field":"xb","type":"quantitative","scale":{"domain":[-5.1,5.1]},"axis":{"title":"motor score z","titleFontSize":14,"titleFontWeight":"normal","titlePadding":11,"titleColor":"#111"}},"y":{"field":"o","type":"quantitative","scale":{"domain":[-9,9]},"axis":null},"color":{"field":"g","legend":null}}}
   ]},
   {"bounds":"full","spacing":14,"hconcat":[
    {"data":{"name":"rows"},"width":1,"height":976.2,
     "mark":{"type":"text","text":""},
     "encoding":{
      "y":{"field":"r","type":"nominal","sort":null,"scale":{"type":"point","range":[-10,1011]},"axis":{"orient":"left","labels":false,"grid":false,"title":null,"domainColor":"#555"}}
     }
    },
    {"bounds":"flush","spacing":8,"vconcat":[
     {"width":217,"height":30,"title":"AUC=0.80","transform":[{"filter":"datum.c=='13'"},{"density":"x","groupby":["g"],"extent":[-5.1,5.1],"steps":150}],"mark":{"type":"line","clip":true},"encoding":{"x":{"field":"value","type":"quantitative","scale":{"domain":[-5.1,5.1]},"axis":{"labels":false},"title":null},"y":{"field":"density","type":"quantitative","scale":{"nice":false},"axis":null},"color":{"field":"g","legend":null}}},
     {"width":217,"height":58,"transform":[{"filter":"datum.c=='13'"}],"mark":"circle","encoding":{"x":{"field":"xb","type":"quantitative","scale":{"domain":[-5.1,5.1]},"title":null},"y":{"field":"o","type":"quantitative","scale":{"domain":[-9,9]},"axis":null},"color":{"field":"g","legend":null}}},
     {"data":{"name":"na"},"width":217,"height":34.7,"mark":{"type":"text","text":""},"encoding":{}},
     {"width":217,"height":30,"title":"AUC=0.64","transform":[{"filter":"datum.c=='23'"},{"density":"x","groupby":["g"],"extent":[-5.1,5.1],"steps":150}],"mark":{"type":"line","clip":true},"encoding":{"x":{"field":"value","type":"quantitative","scale":{"domain":[-5.1,5.1]},"axis":{"labels":false},"title":null},"y":{"field":"density","type":"quantitative","scale":{"nice":false},"axis":null},"color":{"field":"g","legend":null}}},
     {"width":217,"height":58,"transform":[{"filter":"datum.c=='23'"}],"mark":"circle","encoding":{"x":{"field":"xb","type":"quantitative","scale":{"domain":[-5.1,5.1]},"title":null},"y":{"field":"o","type":"quantitative","scale":{"domain":[-9,9]},"axis":null},"color":{"field":"g","legend":null}}},
     {"data":{"name":"na"},"width":217,"height":34.7,"mark":{"type":"text","text":""},"encoding":{}},
     {"width":217,"height":30,"title":"AUC=0.76","transform":[{"filter":"datum.c=='33'"},{"density":"x","groupby":["g"],"extent":[-5.1,5.1],"steps":150}],"mark":{"type":"line","clip":true},"encoding":{"x":{"field":"value","type":"quantitative","scale":{"domain":[-5.1,5.1]},"axis":{"labels":false},"title":null},"y":{"field":"density","type":"quantitative","scale":{"nice":false},"axis":null},"color":{"field":"g","legend":null}}},
     {"width":217,"height":58,"transform":[{"filter":"datum.c=='33'"}],"mark":"circle","encoding":{"x":{"field":"xb","type":"quantitative","scale":{"domain":[-5.1,5.1]},"title":null},"y":{"field":"o","type":"quantitative","scale":{"domain":[-9,9]},"axis":null},"color":{"field":"g","legend":null}}},
     {"data":{"name":"na"},"width":217,"height":34.7,"mark":{"type":"text","text":""},"encoding":{}},
     {"width":217,"height":30,"title":"AUC=0.64","transform":[{"filter":"datum.c=='43'"},{"density":"x","groupby":["g"],"extent":[-5.1,5.1],"steps":150}],"mark":{"type":"line","clip":true},"encoding":{"x":{"field":"value","type":"quantitative","scale":{"domain":[-5.1,5.1]},"axis":{"labels":false},"title":null},"y":{"field":"density","type":"quantitative","scale":{"nice":false},"axis":null},"color":{"field":"g","legend":null}}},
     {"width":217,"height":58,"transform":[{"filter":"datum.c=='43'"}],"mark":"circle","encoding":{"x":{"field":"xb","type":"quantitative","scale":{"domain":[-5.1,5.1]},"title":null},"y":{"field":"o","type":"quantitative","scale":{"domain":[-9,9]},"axis":null},"color":{"field":"g","legend":null}}},
     {"data":{"name":"na"},"width":217,"height":34.7,"mark":{"type":"text","text":""},"encoding":{}},
     {"width":217,"height":30,"title":"AUC=0.80","transform":[{"filter":"datum.c=='53'"},{"density":"x","groupby":["g"],"extent":[-5.1,5.1],"steps":150}],"mark":{"type":"line","clip":true},"encoding":{"x":{"field":"value","type":"quantitative","scale":{"domain":[-5.1,5.1]},"axis":{"labels":false},"title":null},"y":{"field":"density","type":"quantitative","scale":{"nice":false},"axis":null},"color":{"field":"g","legend":null}}},
     {"width":217,"height":58,"transform":[{"filter":"datum.c=='53'"}],"mark":"circle","encoding":{"x":{"field":"xb","type":"quantitative","scale":{"domain":[-5.1,5.1]},"title":null},"y":{"field":"o","type":"quantitative","scale":{"domain":[-9,9]},"axis":null},"color":{"field":"g","legend":null}}},
     {"data":{"name":"na"},"width":217,"height":34.7,"mark":{"type":"text","text":""},"encoding":{}},
     {"width":217,"height":30,"title":"AUC=0.80","transform":[{"filter":"datum.c=='63'"},{"density":"x","groupby":["g"],"extent":[-5.1,5.1],"steps":150}],"mark":{"type":"line","clip":true},"encoding":{"x":{"field":"value","type":"quantitative","scale":{"domain":[-5.1,5.1]},"axis":{"labels":false},"title":null},"y":{"field":"density","type":"quantitative","scale":{"nice":false},"axis":null},"color":{"field":"g","legend":null}}},
     {"width":217,"height":58,"transform":[{"filter":"datum.c=='63'"}],"mark":"circle","encoding":{"x":{"field":"xb","type":"quantitative","scale":{"domain":[-5.1,5.1]},"title":null},"y":{"field":"o","type":"quantitative","scale":{"domain":[-9,9]},"axis":null},"color":{"field":"g","legend":null}}},
     {"data":{"name":"na"},"width":217,"height":34.7,"mark":{"type":"text","text":""},"encoding":{}},
     {"width":217,"height":30,"title":"AUC=0.65","transform":[{"filter":"datum.c=='73'"},{"density":"x","groupby":["g"],"extent":[-5.1,5.1],"steps":150}],"mark":{"type":"line","clip":true},"encoding":{"x":{"field":"value","type":"quantitative","scale":{"domain":[-5.1,5.1]},"axis":{"labels":false},"title":null},"y":{"field":"density","type":"quantitative","scale":{"nice":false},"axis":null},"color":{"field":"g","legend":null}}},
     {"width":217,"height":58,"transform":[{"filter":"datum.c=='73'"}],"mark":"circle","encoding":{"x":{"field":"xb","type":"quantitative","scale":{"domain":[-5.1,5.1]},"title":null},"y":{"field":"o","type":"quantitative","scale":{"domain":[-9,9]},"axis":null},"color":{"field":"g","legend":null}}}
    ]}
   ]}
  ]}
 ]}
]
}
